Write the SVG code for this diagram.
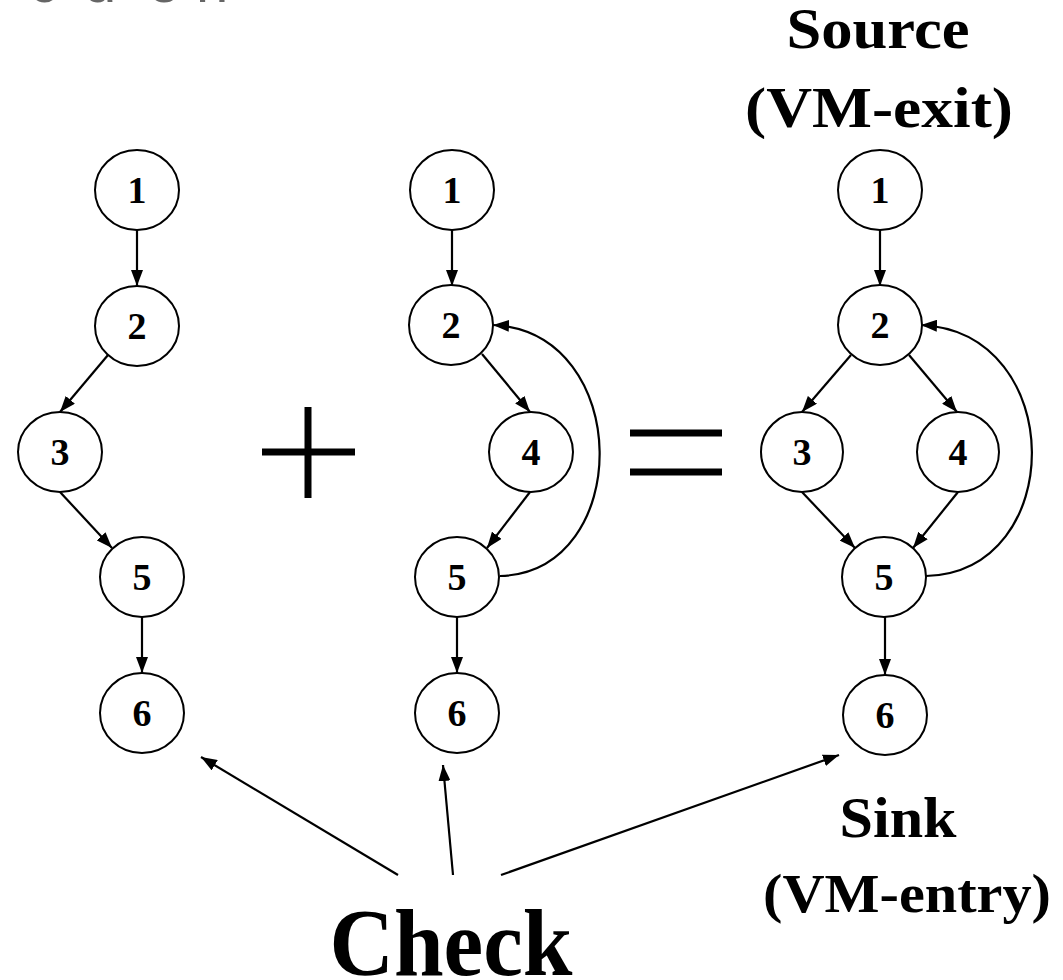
<svg xmlns="http://www.w3.org/2000/svg" width="1063" height="980" viewBox="0 0 1063 980">
  <style>
    .node ellipse { fill: #ffffff; stroke: #000000; stroke-width: 2; }
    .node text { font-family: "Liberation Serif", "Times New Roman", serif; font-weight: bold; font-size: 38px; text-anchor: middle; fill: #000000; }
    .edge { fill: none; stroke: #000000; stroke-width: 2.2; marker-end: url(#arrow); }
    .label { font-family: "Liberation Serif", "Times New Roman", serif; font-weight: bold; fill: #000000; text-anchor: middle; }
    .op { stroke: #000000; stroke-width: 7; }
  </style>
  <defs>
    <marker id="arrow" markerUnits="userSpaceOnUse" markerWidth="16" markerHeight="12" refX="16" refY="6" orient="auto">
      <path d="M0,0 L16,6 L0,12 z" fill="#000000"/>
    </marker>
  </defs>
  <rect width="1063" height="980" fill="#ffffff"/>

  <!-- slide title, running off the top edge -->
  <text font-family="Liberation Sans, Arial, sans-serif" font-size="58" fill="#666666" y="2"><tspan x="29">c</tspan><tspan x="84">u</tspan><tspan x="148">o</tspan><tspan x="196">n</tspan></text>

  <!-- connectors -->
  <g id="edges">
    <!-- left graph -->
    <line class="edge" x1="137" y1="230" x2="137" y2="286"/>
    <line class="edge" x1="108" y1="355" x2="60" y2="412"/>
    <line class="edge" x1="60" y1="492" x2="112" y2="548"/>
    <line class="edge" x1="142" y1="617" x2="142" y2="673"/>
    <!-- middle graph -->
    <line class="edge" x1="452" y1="230" x2="452" y2="286"/>
    <line class="edge" x1="482" y1="354" x2="530" y2="412"/>
    <line class="edge" x1="530" y1="492" x2="487" y2="548"/>
    <line class="edge" x1="457" y1="617" x2="457" y2="673"/>
    <path class="edge" d="M500,576 C634,572 634,332 493,325"/>
    <!-- merged graph -->
    <line class="edge" x1="880" y1="230" x2="880" y2="286"/>
    <line class="edge" x1="851" y1="355" x2="802" y2="412"/>
    <line class="edge" x1="909" y1="355" x2="957" y2="412"/>
    <line class="edge" x1="802" y1="492" x2="855" y2="548"/>
    <line class="edge" x1="958" y1="492" x2="913" y2="548"/>
    <line class="edge" x1="885" y1="617" x2="885" y2="675"/>
    <path class="edge" d="M926,576 C1068,572 1068,332 921,325"/>
    <!-- check pointers -->
    <line class="edge" x1="398" y1="875" x2="201" y2="757"/>
    <line class="edge" x1="453" y1="875" x2="443" y2="765"/>
    <line class="edge" x1="501" y1="875" x2="839" y2="755"/>
  </g>

  <!-- left graph -->
  <g id="a1" class="node"><ellipse cx="137" cy="190" rx="42" ry="40"/><text x="137" y="203">1</text></g>
  <g id="a2" class="node"><ellipse cx="137" cy="326" rx="42" ry="40"/><text x="137" y="339">2</text></g>
  <g id="a3" class="node"><ellipse cx="60" cy="452" rx="42" ry="40"/><text x="60" y="465">3</text></g>
  <g id="a5" class="node"><ellipse cx="142" cy="577" rx="42" ry="40"/><text x="142" y="590">5</text></g>
  <g id="a6" class="node"><ellipse cx="142" cy="713" rx="42" ry="40"/><text x="142" y="726">6</text></g>

  <!-- middle graph -->
  <g id="b1" class="node"><ellipse cx="452" cy="190" rx="42" ry="40"/><text x="452" y="203">1</text></g>
  <g id="b2" class="node"><ellipse cx="451" cy="325" rx="42" ry="40"/><text x="451" y="338">2</text></g>
  <g id="b4" class="node"><ellipse cx="531" cy="452" rx="42" ry="40"/><text x="531" y="465">4</text></g>
  <g id="b5" class="node"><ellipse cx="457" cy="577" rx="42" ry="40"/><text x="457" y="590">5</text></g>
  <g id="b6" class="node"><ellipse cx="457" cy="713" rx="42" ry="40"/><text x="457" y="726">6</text></g>

  <!-- merged graph -->
  <g id="c1" class="node"><ellipse cx="880" cy="190" rx="42" ry="40"/><text x="880" y="203">1</text></g>
  <g id="c2" class="node"><ellipse cx="880" cy="325" rx="42" ry="40"/><text x="880" y="338">2</text></g>
  <g id="c3" class="node"><ellipse cx="802" cy="452" rx="41" ry="40"/><text x="802" y="465">3</text></g>
  <g id="c4" class="node"><ellipse cx="958" cy="452" rx="41" ry="40"/><text x="958" y="465">4</text></g>
  <g id="c5" class="node"><ellipse cx="884" cy="577" rx="42" ry="40"/><text x="884" y="590">5</text></g>
  <g id="c6" class="node"><ellipse cx="885" cy="715" rx="42" ry="40"/><text x="885" y="728">6</text></g>

  <!-- plus and equals -->
  <g id="plus">
    <line class="op" x1="262" y1="452" x2="355" y2="452"/>
    <line class="op" x1="308" y1="407" x2="308" y2="498"/>
  </g>
  <g id="equals">
    <line class="op" x1="630" y1="433" x2="722" y2="433"/>
    <line class="op" x1="630" y1="472" x2="722" y2="472"/>
  </g>

  <!-- labels -->
  <g id="source">
    <text class="label" x="878" y="48" font-size="56" textLength="183" lengthAdjust="spacingAndGlyphs">Source</text>
    <text class="label" x="879" y="127" font-size="58" textLength="268" lengthAdjust="spacingAndGlyphs">(VM-exit)</text>
  </g>
  <g id="sink">
    <text class="label" x="898" y="837" font-size="56" textLength="117" lengthAdjust="spacingAndGlyphs">Sink</text>
    <text class="label" x="907" y="912" font-size="54" textLength="288" lengthAdjust="spacingAndGlyphs">(VM-entry)</text>
  </g>
  <g id="check">
    <text class="label" x="451" y="975" font-size="96" textLength="243" lengthAdjust="spacingAndGlyphs">Check</text>
  </g>
</svg>
